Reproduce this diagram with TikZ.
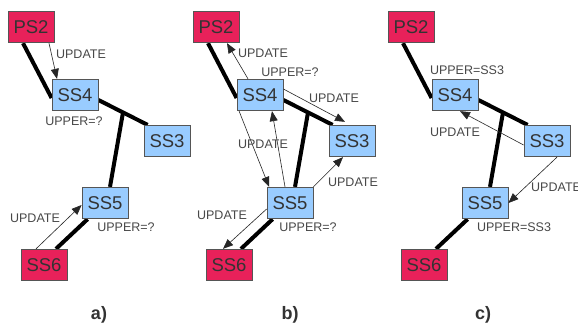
\documentclass[tikz,border=0pt]{standalone}
\usepackage{fontspec}
\setmainfont{Liberation Sans}
\usetikzlibrary{calc,arrows.meta}
\definecolor{crim}{RGB}{232,33,90}
\definecolor{sky}{RGB}{153,204,255}
\definecolor{boxline}{RGB}{85,85,85}
\definecolor{txt}{RGB}{51,51,51}
\definecolor{lbl}{RGB}{72,72,72}
\tikzset{
 nodebox/.style={draw=boxline, line width=0.8pt, minimum width=46pt, minimum height=31.5pt, inner sep=0pt, text=txt, font=\fontsize{18.5}{18.5}\selectfont},
 redbox/.style={nodebox, fill=crim},
 bluebox/.style={nodebox, fill=sky},
 linkline/.style={line width=4pt, black},
 msgarrow/.style={line width=0.6pt, black!85, -{Triangle[length=10pt,width=8pt]}},
 lab/.style={text=lbl, font=\fontsize{12.5}{12.5}\selectfont, inner sep=0pt},
 captxt/.style={text=txt, font=\fontsize{18}{18}\selectfont\bfseries, inner sep=0pt},
}
\newcommand\panelbase[1]{%
 \draw[linkline] ([xshift=-8pt]#1PS2.south) -- ([yshift=-3pt]#1SS4.west);
 \draw[linkline] ([yshift=-5pt]#1SS4.east) coordinate (#1A) -- ([xshift=4pt]#1SS3.north west) coordinate (#1B);
 \coordinate (#1J) at ($(#1A)!0.5!(#1B)$);
 \draw[linkline] (#1J) -- ([xshift=5pt]#1SS5.north);
 \draw[linkline] ([xshift=6pt]#1SS5.south west) -- ([xshift=12pt]#1SS6.north);
 \node[redbox] at (31,27) {PS2};
 \node[bluebox] at (75,95) {SS4};
 \node[bluebox] at (167,141) {SS3};
 \node[bluebox] at (105,203) {SS5};
 \node[redbox] at (44,265) {SS6};
}
\begin{document}
\begin{tikzpicture}[x=1pt,y=-1pt]
\useasboundingbox[fill=white] (0,0) rectangle (578,325);
% ---------------- panel a
\begin{scope}
 \path node[redbox] (aPS2) at (31,27) {} node[bluebox] (aSS4) at (75,95) {}
   node[bluebox] (aSS3) at (167,141) {} node[bluebox] (aSS5) at (105,203) {}
   node[redbox] (aSS6) at (44,265) {};
 \panelbase{a}
 \draw[msgarrow] ([xshift=18pt]aPS2.south) -- ([xshift=-18pt]aSS4.north);
 \draw[msgarrow] ([xshift=-8pt]aSS6.north) -- ([yshift=-2pt]aSS5.west);
 \node[lab] (aL1) at (81,54) {UPDATE};
 \node[lab] (aL2) at (74,121) {UPPER=?};
 \node[lab] (aL3) at (35,218) {UPDATE};
 \node[lab] (aL4) at (126,227) {UPPER=?};
 \node[captxt] (aCap) at (99,315) {a)};
\end{scope}
% ---------------- panel b
\begin{scope}[xshift=185pt]
 \path node[redbox] (bPS2) at (31,27) {} node[bluebox] (bSS4) at (75,95) {}
   node[bluebox] (bSS3) at (167,141) {} node[bluebox] (bSS5) at (105,203) {}
   node[redbox] (bSS6) at (44,265) {};
 \panelbase{b}
 \draw[msgarrow] ([xshift=-12pt]bSS4.north) -- ([xshift=11pt]bPS2.south);
 \draw[msgarrow] ([yshift=6pt]bSS4.east) -- ([xshift=-7pt,yshift=3pt]bSS3.north);
 \draw[msgarrow] ([xshift=2.5pt]bSS4.south west) -- ([xshift=2.5pt]bSS5.north west);
 \draw[msgarrow] ([xshift=-5pt]bSS5.north) -- ([xshift=12pt]bSS4.south);
 \draw[msgarrow] (bSS5.north east) -- ([xshift=-9pt]bSS3.south);
 \draw[msgarrow] ([yshift=-6pt]bSS5.west) -- ([xshift=-6pt]bSS6.north);
 \node[lab] (bL1) at (78,53) {UPDATE};
 \node[lab] (bL2) at (105,72) {UPPER=?};
 \node[lab] (bL3) at (149,98) {UPDATE};
 \node[lab] (bL4) at (78,144) {UPDATE};
 \node[lab] (bL5) at (168,182) {UPDATE};
 \node[lab] (bL6) at (37,215) {UPDATE};
 \node[lab] (bL7) at (123,227) {UPPER=?};
 \node[captxt] (bCap) at (105,315) {b)};
\end{scope}
% ---------------- panel c
\begin{scope}[xshift=380pt]
 \path node[redbox] (cPS2) at (31,27) {} node[bluebox] (cSS4) at (75,95) {}
   node[bluebox] (cSS3) at (167,141) {} node[bluebox] (cSS5) at (105,203) {}
   node[redbox] (cSS6) at (44,265) {};
 \panelbase{c}
 \draw[msgarrow] ([yshift=-4pt]cSS3.west) -- ([xshift=5pt]cSS4.south);
 \draw[msgarrow] ([xshift=10pt]cSS3.south) -- (cSS5.east);
 \node[lab] (cL1) at (87,70) {UPPER=SS3};
 \node[lab] (cL2) at (75,132) {UPDATE};
 \node[lab,anchor=west] (cL3) at (151,187) {UPDATE};
 \node[lab] (cL4) at (134,227) {UPPER=SS3};
 \node[captxt] (cCap) at (103,315) {c)};
\end{scope}
\end{tikzpicture}
\end{document}
